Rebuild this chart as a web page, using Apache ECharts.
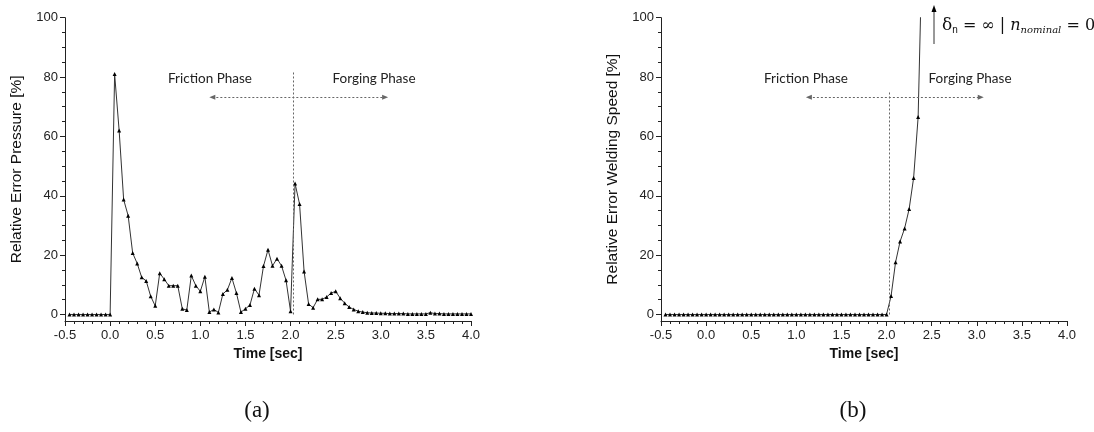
<!DOCTYPE html>
<html><head><meta charset="utf-8">
<script src="https://cdn.jsdelivr.net/npm/echarts@6/dist/echarts.min.js"></script>
<style>html,body{margin:0;padding:0;background:#fff}#c{width:1094px;height:432px}</style>
</head><body><div id="c"></div>
<script>
// ---- data ----
const timeSec = [
  -0.45,-0.4,-0.35,-0.3,-0.25,-0.2,-0.15,-0.1,-0.05,0,
  0.05,0.1,0.15,0.2,0.25,0.3,0.35,0.4,0.45,0.5,
  0.55,0.6,0.65,0.7,0.75,0.8,0.85,0.9,0.95,1.0,
  1.05,1.1,1.15,1.2,1.25,1.3,1.35,1.4,1.45,1.5,
  1.55,1.6,1.65,1.7,1.75,1.8,1.85,1.9,1.95,2.0,
  2.05,2.1,2.15,2.2,2.25,2.3,2.35,2.4,2.45,2.5,
  2.55,2.6,2.65,2.7,2.75,2.8,2.85,2.9,2.95,3.0,
  3.05,3.1,3.15,3.2,3.25,3.3,3.35,3.4,3.45,3.5,
  3.55,3.6,3.65,3.7,3.75,3.8,3.85,3.9,3.95,4.0
];
const pressureError = [
  0,0,0,0,0,0,0,0,0,0,
  81,62,38.7,33.3,20.7,17.2,12.5,11.3,6.1,2.9,
  13.9,11.9,9.7,9.7,9.7,1.9,1.5,13.1,9.7,7.8,
  12.7,0.8,1.7,0.7,6.9,8.3,12.3,7.2,0.8,1.9,
  3.2,8.7,6.5,16.3,21.8,16.4,18.8,16.4,11.5,1.1,
  44.1,37.2,14.5,3.5,2.3,5.1,5.1,5.9,7.2,7.8,
  5.5,3.8,2.5,1.7,1.1,0.8,0.6,0.5,0.5,0.4,
  0.4,0.3,0.3,0.3,0.3,0.2,0.2,0.2,0.2,0.2,
  0.6,0.3,0.3,0.2,0.2,0.2,0.2,0.2,0.2,0.2
];
// welding speed error, aligned with the first entries of timeSec (last point runs off the top)
const speedError = [
  0,0,0,0,0,0,0,0,0,0,
  0,0,0,0,0,0,0,0,0,0,
  0,0,0,0,0,0,0,0,0,0,
  0,0,0,0,0,0,0,0,0,0,
  0,0,0,0,0,0,0,0,0,0,
  6.2,17.6,24.6,29,35.5,46,66.5,131
];
const yMajorTicks = [0,20,40,60,80,100];
const yMinorTicks = [5,10,15,25,30,35,45,50,55,65,70,75,85,90,95];
const xMin = -0.5, xMax = 4.0, xStep = 0.5;
const yMin = -2.2, yMax = 100;
const yNames = ['Relative Error Pressure [%]', 'Relative Error Welding Speed [%]'];
const xName = 'Time [sec]';
const phaseLabels = ['Friction Phase', 'Forging Phase'];
// annotation guides in data units: [phaseDividerTime, dividerTop, arrowLeft, arrowRight, arrowLevel]
const guidesA = [2.03, 81.8, 1.133, 3.048, 73.2];
const guidesB = [2.028, 75.4, 1.139, 3.044, 73.2];

const zip = (vals) => vals.map((v, i) => [timeSec[i], v]);

const chart = echarts.init(document.getElementById('c'), null, {renderer: 'canvas'});
const FONT = '"Liberation Sans", Arial, sans-serif';
const grids = [
  {left: 65, top: 17.7, width: 406, height: 303.3},
  {left: 661, top: 17.7, width: 406, height: 303.3}
];
function xAx(gi) {
  return {
    type: 'value', gridIndex: gi, min: xMin, max: xMax, interval: xStep,
    name: xName, nameLocation: 'middle', nameGap: 26,
    nameTextStyle: {fontFamily: FONT, fontSize: 14, fontWeight: 'bold', color: '#111'},
    axisLine: {onZero: false, lineStyle: {color: '#222', width: 1}},
    axisTick: {length: 5, lineStyle: {color: '#222'}},
    minorTick: {show: true, splitNumber: 5, length: 3, lineStyle: {color: '#222'}},
    axisLabel: {fontFamily: FONT, fontSize: 13, color: '#222', margin: 8,
      formatter: v => v.toFixed(1)},
    splitLine: {show: false}, minorSplitLine: {show: false}
  };
}
function yMain(gi, name) {
  return {
    type: 'value', gridIndex: gi, min: yMin, max: yMax, position: 'left',
    name: name, nameLocation: 'middle', nameGap: 40,
    nameTextStyle: {fontFamily: FONT, fontSize: 15.5, color: '#111'},
    axisLine: {show: true, onZero: false, lineStyle: {color: '#222', width: 1}},
    axisTick: {show: true, length: 5, customValues: yMajorTicks, lineStyle: {color: '#222'}},
    axisLabel: {fontFamily: FONT, fontSize: 13, color: '#222', margin: 7, customValues: yMajorTicks},
    splitLine: {show: false}
  };
}
function yMinor(gi) {
  return {
    type: 'value', gridIndex: gi, min: yMin, max: yMax, position: 'left',
    axisLine: {show: false, onZero: false},
    axisTick: {show: true, length: 3, customValues: yMinorTicks, lineStyle: {color: '#222'}},
    axisLabel: {show: false},
    splitLine: {show: false}
  };
}
function guideLines(g) {
  const ls = {color: '#666', width: 1, type: [2, 2]};
  return {
    silent: true, animation: false, label: {show: false},
    lineStyle: ls,
    data: [
      [{coord: [g[0], 0], symbol: 'none'}, {coord: [g[0], g[1]], symbol: 'none'}],
      [{coord: [g[2], g[4]], symbol: 'triangle', symbolSize: [5, 6], symbolRotate: 90},
       {coord: [g[3], g[4]], symbol: 'triangle', symbolSize: [5, 6], symbolRotate: -90}]
    ]
  };
}
function lineSeries(xi, yi, data, g) {
  return {
    type: 'line', xAxisIndex: xi, yAxisIndex: yi, data: data, clip: true,
    symbol: 'triangle', symbolSize: 4, showSymbol: true,
    itemStyle: {color: '#000'},
    lineStyle: {color: '#333', width: 1},
    markLine: guideLines(g),
    animation: false
  };
}
const phaseText = (x, t) => ({
  type: 'text', x: x, y: 79, silent: true,
  style: {text: t, fontFamily: 'Lato', fontSize: 13.5, fill: '#222', align: 'center', verticalAlign: 'middle'}
});
chart.setOption({
  animation: false,
  backgroundColor: '#fff',
  grid: grids,
  xAxis: [xAx(0), xAx(1)],
  yAxis: [yMain(0, yNames[0]), yMinor(0), yMain(1, yNames[1]), yMinor(1)],
  series: [
    lineSeries(0, 0, zip(pressureError), guidesA),
    lineSeries(1, 2, zip(speedError), guidesB)
  ],
  graphic: [
    phaseText(210, phaseLabels[0]), phaseText(374, phaseLabels[1]),
    phaseText(806, phaseLabels[0]), phaseText(970, phaseLabels[1]),
    {type: 'text', x: 257, y: 411, silent: true,
     style: {text: '(a)', fontFamily: 'Liberation Serif', fontSize: 23, fill: '#111', align: 'center', verticalAlign: 'middle'}},
    {type: 'text', x: 853, y: 411, silent: true,
     style: {text: '(b)', fontFamily: 'Liberation Serif', fontSize: 23, fill: '#111', align: 'center', verticalAlign: 'middle'}},
    {type: 'line', silent: true, shape: {x1: 934, y1: 44, x2: 934, y2: 10}, style: {stroke: '#333', lineWidth: 1}},
    {type: 'polygon', silent: true, shape: {points: [[931.5, 12], [936.5, 12], [934, 5]]}, style: {fill: '#000'}},
    {type: 'text', x: 942, y: 26, silent: true,
     style: {
       text: '{d|δ}{s|n}{m| = ∞ | }{i|n}{si|nominal}{m| = 0}',
       verticalAlign: 'middle', align: 'left',
       rich: {
         d: {fontFamily: 'DejaVu Serif', fontSize: 17, fill: '#111'},
         s: {fontFamily: 'Liberation Sans', fontSize: 10, fill: '#111', padding: [8, 0, 0, 0]},
         m: {fontFamily: 'DejaVu Serif', fontSize: 16, fill: '#111'},
         i: {fontFamily: 'DejaVu Serif', fontStyle: 'italic', fontSize: 16, fill: '#111'},
         si: {fontFamily: 'DejaVu Serif', fontStyle: 'italic', fontSize: 10, fill: '#111', padding: [8, 0, 0, 0]}
       }
     }}
  ]
});
</script></body></html>
